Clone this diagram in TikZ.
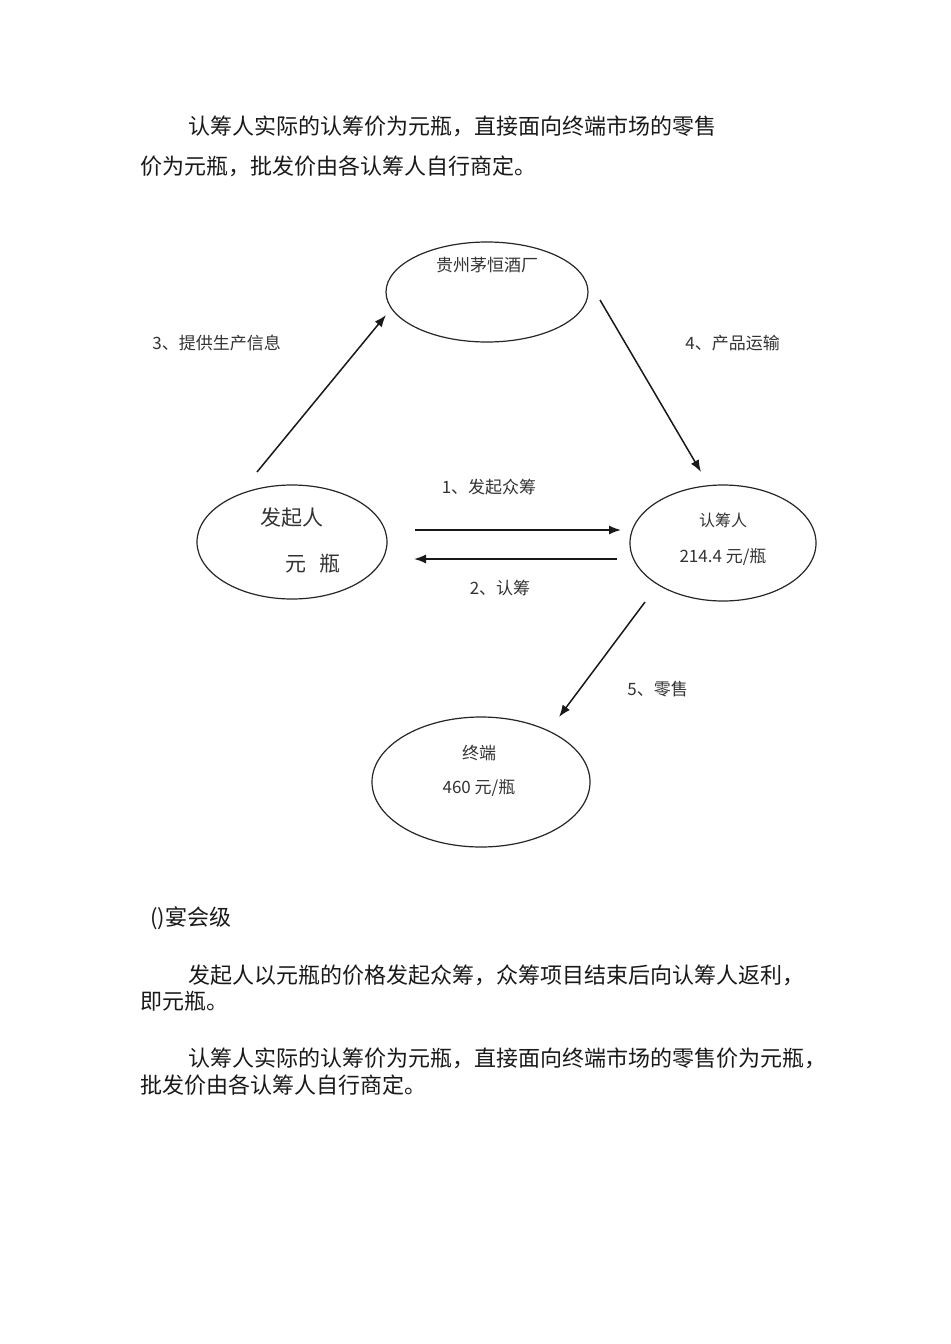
\documentclass[tikz,border=0pt]{standalone}
\usepackage{fontspec}
\setmainfont{Noto Sans CJK SC}
\usetikzlibrary{arrows.meta,shapes.geometric}

\begin{document}
\begin{tikzpicture}[x=0.5pt,y=-0.5pt,>={Latex[length=6pt,width=4.5pt]},
  blob/.style={draw=black!85,ellipse,line width=0.6pt,inner sep=0pt},
  flow/.style={->,line width=0.75pt,black!90},
  lbl/.style={font=\fontsize{8.5}{10}\selectfont,text=black!80,inner sep=0pt},
  body/.style={font=\fontsize{11}{13}\selectfont,text=black!90,anchor=west,inner sep=0pt}]
\useasboundingbox[fill=white] (0,0) rectangle (950,1344);
%% text above
\node[body] (top1) at (188,126) {认筹人实际的认筹价为元瓶，直接面向终端市场的零售};
\node[body] (top2) at (140,166) {价为元瓶，批发价由各认筹人自行商定。};
%% nodes
\node[blob,minimum width=101pt,minimum height=50pt] (chang) at (487,292) {};
\node[lbl] (changname) at (487,265) {贵州茅恒酒厂};
\node[blob,minimum width=95pt,minimum height=57pt] (faqi) at (292,542) {};
\node[lbl,font=\fontsize{10.5}{12}\selectfont] (faqiname) at (292,518) {发起人};
\node[lbl,font=\fontsize{10.5}{12}\selectfont] (faqiprice) at (313,564) {元\hspace{0.6em}瓶};
\node[blob,minimum width=93pt,minimum height=58pt] (rcr) at (723,543) {};
\node[lbl,font=\fontsize{8}{10}\selectfont] (rcrname) at (723,520) {认筹人};
\node[lbl] (rcrprice) at (723,557) {214.4 元/瓶};
\node[blob,minimum width=109pt,minimum height=65pt] (zhongduan) at (481,782) {};
\node[lbl] (zdname) at (479,753) {终端};
\node[lbl] (zdprice) at (479,788) {460 元/瓶};
%% arrow ends
\coordinate (s3) at (257,472);
\coordinate (e3) at (386,315);
\coordinate (s4) at (600,300);
\coordinate (e4) at (701,472);
\coordinate (s1) at (415,530);
\coordinate (e1) at (621,530);
\coordinate (s2) at (617,559);
\coordinate (e2) at (414,559);
\coordinate (s5) at (645,602);
\coordinate (e5) at (559,717);
%% edges
\draw[flow] (s3) -- (e3);
\draw[flow] (s4) -- (e4);
\draw[flow] (s1) -- (e1);
\draw[flow] (s2) -- (e2);
\draw[flow] (s5) -- (e5);
%% edge labels
\node[lbl,anchor=west] (l3) at (152,343) {3、提供生产信息};
\node[lbl,anchor=west] (l4) at (685,343) {4、产品运输};
\node[lbl] (l1) at (489,487) {1、发起众筹};
\node[lbl] (l2) at (500,588) {2、认筹};
\node[lbl,anchor=west] (l5) at (627,689) {5、零售};
%% text below
\node[body] (sec) at (150,918) {()宴会级};
\node[body] (low1) at (188,975) {发起人以元瓶的价格发起众筹，众筹项目结束后向认筹人返利，};
\node[body] (low2) at (140,1001) {即元瓶。};
\node[body] (low3) at (188,1058) {认筹人实际的认筹价为元瓶，直接面向终端市场的零售价为元瓶，};
\node[body] (low4) at (140,1085) {批发价由各认筹人自行商定。};
\end{tikzpicture}
\end{document}
